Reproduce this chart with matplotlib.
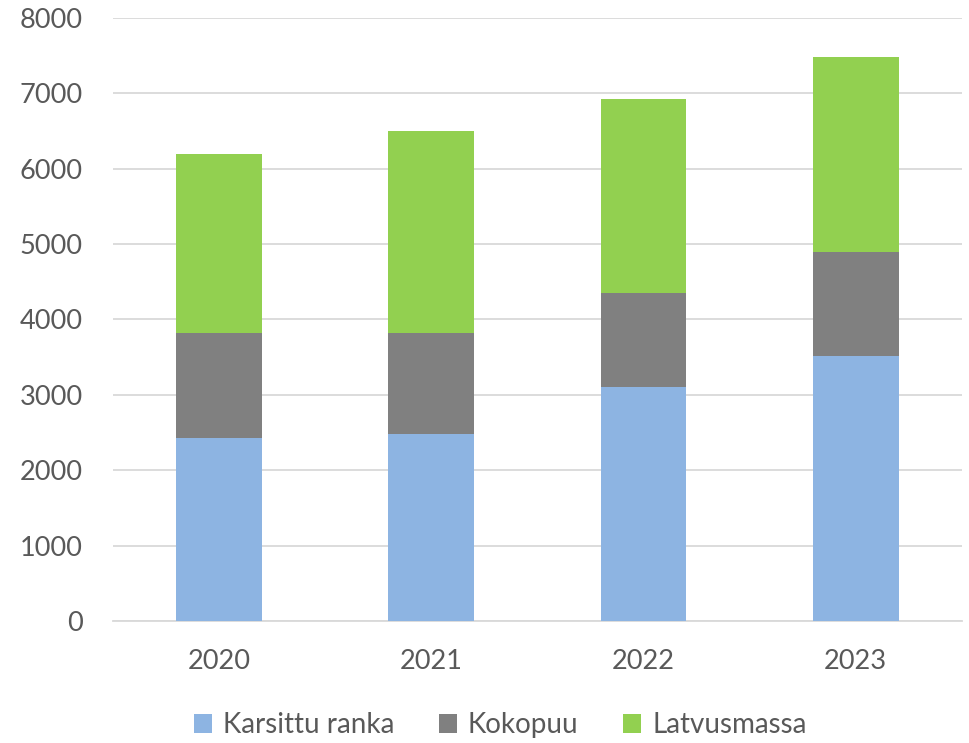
import numpy as np
import matplotlib.pyplot as plt

years = ["2020", "2021", "2022", "2023"]
karsittu = [2434, 2483, 3106, 3517]
kokopuu = [1381, 1332, 1246, 1374]
latvus = [2374, 2692, 2569, 2591]

plt.rcParams["font.family"] = ["Lato", "DejaVu Sans"]
txt = "#595959"

fig = plt.figure(figsize=(9.69, 7.43), dpi=100)
ax = fig.add_axes([0.1166, 0.1642, 0.876, 0.8116])

x = np.arange(len(years))
w = 0.405
b1 = np.array(karsittu)
b2 = b1 + np.array(kokopuu)
ax.bar(x, karsittu, w, color="#8DB4E2", label="Karsittu ranka", zorder=3)
ax.bar(x, kokopuu, w, bottom=b1, color="#808080", label="Kokopuu", zorder=3)
ax.bar(x, latvus, w, bottom=b2, color="#92D050", label="Latvusmassa", zorder=3)

ax.set_xlim(-0.5, 3.5)
ax.set_ylim(0, 8000)
ax.set_yticks(range(0, 8001, 1000))
ax.set_xticks(x)
ax.set_xticklabels(years)
ax.yaxis.grid(True, color="#d9d9d9", linewidth=1.3, zorder=0)
for s in ["top", "right", "left"]:
    ax.spines[s].set_visible(False)
ax.spines["bottom"].set_color("#d9d9d9")
ax.spines["bottom"].set_linewidth(1.3)
ax.tick_params(axis="both", length=0, labelsize=19.5, colors=txt)
ax.tick_params(axis="y", pad=22)
ax.tick_params(axis="x", pad=20)

leg = ax.legend(loc="upper center", bbox_to_anchor=(0.456, -0.11), ncol=3,
                frameon=False, fontsize=20, handlelength=0.65, handleheight=0.65,
                handletextpad=0.4, columnspacing=1.6)
for t in leg.get_texts():
    t.set_color(txt)

fig.savefig("out.png", dpi=100)
